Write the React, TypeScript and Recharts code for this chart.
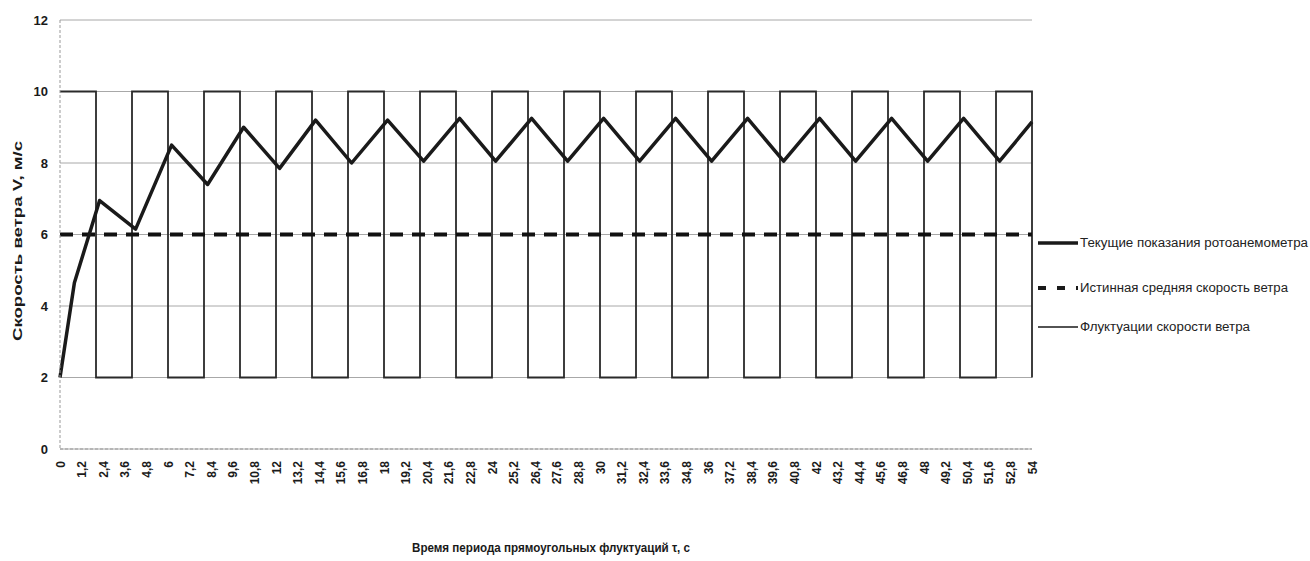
import { LineChart, Line, XAxis, YAxis, CartesianGrid } from "recharts";

// time axis ticks (s)
const timeTicks = [
  0, 1.2, 2.4, 3.6, 4.8, 6, 7.2, 8.4, 9.6, 10.8, 12, 13.2, 14.4, 15.6, 16.8, 18,
  19.2, 20.4, 21.6, 22.8, 24, 25.2, 26.4, 27.6, 28.8, 30, 31.2, 32.4, 33.6, 34.8,
  36, 37.2, 38.4, 39.6, 40.8, 42, 43.2, 44.4, 45.6, 46.8, 48, 49.2, 50.4, 51.6,
  52.8, 54,
];
const speedTicks = [0, 2, 4, 6, 8, 10, 12];

// current anemometer readings
const readT = [
  0, 0.8, 2.2, 4.2, 6.2, 8.2, 10.2, 12.2, 14.2, 16.2, 18.2, 20.2, 22.2, 24.2,
  26.2, 28.2, 30.2, 32.2, 34.2, 36.2, 38.2, 40.2, 42.2, 44.2, 46.2, 48.2, 50.2,
  52.2, 54,
];
const readV = [
  2.0, 4.65, 6.95, 6.15, 8.5, 7.4, 9.0, 7.85, 9.2, 8.0, 9.2, 8.05, 9.25, 8.05,
  9.25, 8.05, 9.25, 8.05, 9.25, 8.05, 9.25, 8.05, 9.25, 8.05, 9.25, 8.05, 9.25,
  8.05, 9.15,
];

// true mean speed
const meanT = [0, 54];
const meanV = [6, 6];

// rectangular wind fluctuations (step changes)
const squareT = [
  0, 2, 4, 6, 8, 10, 12, 14, 16, 18, 20, 22, 24, 26, 28, 30, 32, 34, 36, 38, 40,
  42, 44, 46, 48, 50, 52, 54,
];
const squareV = [
  10, 2, 10, 2, 10, 2, 10, 2, 10, 2, 10, 2, 10, 2, 10, 2, 10, 2, 10, 2, 10, 2,
  10, 2, 10, 2, 10, 2,
];

const seriesNames = [
  "Текущие показания ротоанемометра",
  "Истинная средняя скорость ветра",
  "Флуктуации скорости ветра",
];

const readData = readT.map((t, i) => ({ t, v: readV[i] }));
const meanData = meanT.map((t, i) => ({ t, v: meanV[i] }));
const squareData = squareT.map((t, i) => ({ t, v: squareV[i] }));

const FONT = "'Liberation Sans', Arial, sans-serif";
const fmt = (v: number) => String(v).replace(".", ",");

const XTick = (props: any) => {
  const { x, y, payload } = props;
  return (
    <g transform={`translate(${x},${y + 4})`}>
      <text
        transform="rotate(-90)"
        textAnchor="end"
        dy={4.5}
        fontSize={12}
        fontWeight="bold"
        fill="#1a1a1a"
        fontFamily={FONT}
      >
        {fmt(payload.value)}
      </text>
    </g>
  );
};

const YTitle = () => (
  <text
    x={22}
    y={241}
    transform="rotate(-90 22 241)"
    textAnchor="middle"
    fontSize={13}
    fontWeight="bold"
    fill="#1a1a1a"
    fontFamily={FONT}
    textLength={200}
    lengthAdjust="spacingAndGlyphs"
  >
    Скорость ветра V, м/с
  </text>
);

const XTitle = () => (
  <text
    x={551}
    y={552}
    textAnchor="middle"
    fontSize={12}
    fontWeight="bold"
    fill="#1a1a1a"
    fontFamily={FONT}
    textLength={278}
    lengthAdjust="spacingAndGlyphs"
  >
    Время периода прямоугольных флуктуаций τ, с
  </text>
);

function ChartLegend() {
  const rows = [
    { y: 18, w: 3.5, dash: undefined, len: 228 },
    { y: 63, w: 4, dash: "8 11", len: 208 },
    { y: 102, w: 1.5, dash: undefined, len: 170 },
  ];
  return (
    <svg
      width={274}
      height={120}
      style={{ position: "absolute", left: 1036, top: 225 }}
    >
      {rows.map((r, i) => (
        <g key={i}>
          <line
            x1={2}
            x2={42}
            y1={r.y}
            y2={r.y}
            stroke="#1a1a1a"
            strokeWidth={r.w}
            strokeDasharray={r.dash}
          />
          <text
            x={44}
            y={r.y + 4}
            fontSize={12}
            fill="#222"
            fontFamily={FONT}
            textLength={r.len}
            lengthAdjust="spacingAndGlyphs"
          >
            {seriesNames[i]}
          </text>
        </g>
      ))}
    </svg>
  );
}

export default function App() {
  return (
    <div
      style={{
        position: "absolute",
        left: 0,
        top: 0,
        width: 1310,
        height: 561,
        background: "#fff",
      }}
    >
      <LineChart
        width={1310}
        height={561}
        margin={{ top: 20, right: 278, left: 0, bottom: 0 }}
      >
        <CartesianGrid vertical={false} stroke="#a8a8a8" strokeWidth={1} />
        <XAxis
          type="number"
          dataKey="t"
          domain={[0, 54]}
          ticks={timeTicks}
          interval={0}
          height={112}
          tickLine={false}
          axisLine={{ stroke: "#999", strokeDasharray: "3 2" }}
          tick={<XTick />}
          label={<XTitle />}
        />
        <YAxis
          type="number"
          domain={[0, 12]}
          ticks={speedTicks}
          width={60}
          tickLine={false}
          tickMargin={6}
          axisLine={{ stroke: "#999", strokeDasharray: "3 2" }}
          tick={{
            fontSize: 13,
            fontWeight: "bold",
            fill: "#1a1a1a",
            fontFamily: FONT,
          }}
          label={<YTitle />}
        />
        <Line
          data={squareData}
          dataKey="v"
          name={seriesNames[2]}
          type="stepAfter"
          stroke="#2a2a2a"
          strokeWidth={1.8}
          dot={false}
          isAnimationActive={false}
        />
        <Line
          data={meanData}
          dataKey="v"
          name={seriesNames[1]}
          type="linear"
          stroke="#111"
          strokeWidth={4}
          strokeDasharray="13 9"
          dot={false}
          isAnimationActive={false}
        />
        <Line
          data={readData}
          dataKey="v"
          name={seriesNames[0]}
          type="linear"
          stroke="#1a1a1a"
          strokeWidth={3.5}
          strokeLinejoin="round"
          dot={false}
          isAnimationActive={false}
        />
      </LineChart>
      <ChartLegend />
    </div>
  );
}
